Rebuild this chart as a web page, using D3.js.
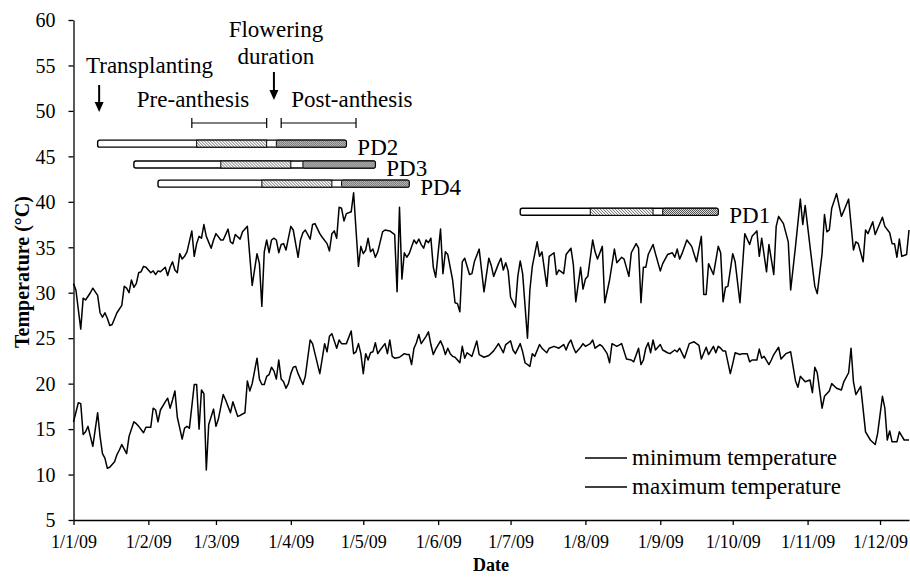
<!DOCTYPE html>
<html>
<head>
<meta charset="utf-8">
<script src="https://cdn.jsdelivr.net/npm/d3@7"></script>
<style>
  body { margin: 0; background: #fff; }
  svg text { font-family: "Liberation Serif", "Times New Roman", serif; fill: #000; }
  .axis path, .axis line { stroke: #000; stroke-width: 1.3; }
</style>
</head>
<body>
<svg id="MyGraph" width="910" height="579"></svg>
<script>
// day of 2009 (0 = 1 Jan) and daily maximum temperature
var maxDay = [0,1,3,4,5,7,8,10,11,12,13,14,15,16,18,20,21,22,23,24,25,26,27,28,29,30,32,33,34,35,36,38,39,40,41,42,43,44,45,46,47,49,50,51,52,53,54,55,57,58,59,61,62,64,65,66,67,69,70,72,74,76,77,78,79,80,81,82,83,84,85,86,87,88,89,90,91,93,94,95,96,98,99,100,102,103,105,106,107,108,109,110,111,112,113,115,116,117,118,119,120,121,122,123,124,125,126,128,129,131,133,134,135,136,137,138,139,141,142,143,144,145,146,147,148,149,150,152,153,154,155,157,158,159,160,161,162,164,165,166,168,170,172,173,174,176,177,178,179,180,181,183,184,185,186,188,189,190,192,193,194,196,197,199,200,201,203,204,206,207,208,210,211,212,213,215,216,217,219,220,222,224,225,227,228,230,231,233,234,235,236,237,238,240,241,243,244,246,248,249,250,251,252,254,256,258,260,261,262,263,265,267,268,269,270,271,273,274,276,278,280,281,283,284,285,287,288,290,291,292,294,296,297,299,301,302,303,305,307,308,310,311,312,313,314,316,318,319,321,323,324,325,327,328,329,331,332,335,336,338,339,340,341,342,343,345,346];
var maxTemp = [31,30.3,26,29.4,29.2,30,30.5,29.7,27.8,27.3,27.8,27.2,26.4,26.5,27.8,28.6,30.7,30.5,30,31.4,30.6,31,32.2,32.3,32.9,32.8,32.2,32.4,32,32.4,32.3,32.8,31.9,32.8,33.4,32.5,32.2,34.3,33.7,34,34.5,36.8,34,35.4,36.2,36,37.5,36.2,34.9,35.8,36.5,35.8,35.8,37,35.6,35.4,36.4,35.9,36.7,37.3,30.8,34.3,33.2,28.5,34.5,35.8,34.4,35.8,36,35.8,34.4,35.3,35.4,34.7,36,37.3,36.9,33.9,35.8,36.6,36.9,35.9,37.5,37.6,36.5,36.1,35.4,34.6,36.5,36.8,36,39.4,39.3,37.9,38.7,38.9,41,36.9,32.9,35.1,34.3,34.7,36,34.5,34.8,33.9,34.5,36.7,36.9,36.8,36.4,30.1,39.4,31.5,34.4,33.9,34.3,35.8,35.4,35.9,35.3,34.9,35.8,35.5,36,32.8,31.7,37,32.1,34.5,34.2,31.4,28.9,28.8,27.9,33.4,33.8,32,32.1,33.4,34.8,30.1,33.8,33,31.8,33.2,33.8,32.5,33.3,32.4,29.5,28.4,31.8,33.5,32.1,25,30.3,32.9,35.6,34,34.5,30.7,34,34.4,32,32.5,32.1,34.2,34.9,33.1,29,32.8,30.4,31.5,31.8,35.8,34.5,33.7,35.1,28.9,31.4,34.8,33.3,33.9,33.7,31.8,34.4,35.4,34.9,28.9,32.8,32.8,34.2,35.3,34.3,32.4,33.2,34.2,34.4,33.9,34.8,33.7,34.3,35.8,35.1,33.4,36.2,29.8,29.8,33.2,32,35.1,34.4,29,30.6,30.7,34.3,33.4,28.9,36.5,35.3,36.2,36.8,34,36,32.3,35.3,32,37.3,38.4,37.6,35.6,30.3,35.1,40.3,37.5,39.6,35.1,30.7,29.9,34.3,38.6,36.7,36.9,39.3,40.9,38.4,39,40.3,34.7,35.6,35.4,33.4,36.9,36.5,37.8,36.4,38.3,37.3,36.6,35.4,35.4,33.9,35.9,34,34.2,36.9];

// day of 2009 and daily minimum temperature
var minDay = [0,2,3,4,5,6,7,8,10,11,12,13,14,15,17,18,19,20,22,23,25,26,27,29,30,32,33,34,35,36,38,39,40,41,42,43,44,45,46,47,48,50,51,52,53,54,55,56,58,59,60,62,63,65,66,68,69,71,72,73,74,76,77,78,79,80,81,82,83,84,85,86,87,88,89,90,91,92,93,95,96,98,99,100,102,104,105,106,107,109,110,111,113,115,116,117,118,119,120,121,122,123,124,125,126,127,129,130,131,132,133,135,137,138,139,140,141,142,143,144,146,147,148,149,150,152,153,154,155,156,157,158,160,161,162,163,165,167,168,170,172,174,176,178,179,181,182,183,185,186,187,189,190,191,193,194,196,197,199,201,203,204,205,206,207,208,210,211,212,214,215,216,218,219,221,222,223,225,227,229,231,232,234,235,236,237,238,239,240,241,243,244,246,247,249,250,251,253,255,257,259,260,262,263,265,266,267,268,269,270,272,273,274,276,277,279,280,281,283,284,285,286,288,289,290,292,293,295,297,299,300,301,303,305,306,307,308,310,311,313,314,316,318,319,321,322,323,324,326,328,330,332,333,335,336,337,338,339,341,342,344,346];
var minTemp = [15.8,17.9,17.8,14.4,14.7,15.3,14.2,13.1,16.8,14.2,12.3,11.8,10.7,10.8,11.4,12.2,12.7,13.3,12.3,14.2,15.8,15.6,15.3,14.6,15.2,15.2,17.3,17.1,15.8,17.1,18,18.4,17.3,18.2,19.2,16.3,15.1,13.9,15.1,15.3,15.1,19.9,19.9,15,19.3,18.9,10.5,15.5,17.2,15.3,16.1,18.8,18.2,16.8,18,16.4,16.5,16.8,20.3,19.2,20,22.8,20.5,19.9,19.9,20.8,21,21.8,21.4,20.5,22.6,20.5,20.2,19.5,20,21.1,21.8,21.9,21.1,19.9,20.8,24.8,24.4,23.3,21.1,24.4,23.5,25.2,25.5,23.9,24.8,24.4,24.4,25.8,23.3,23.5,24.4,23.3,21.1,23.3,22.6,23.4,23.5,24.5,23.3,23.7,24.4,23.3,24.8,23,22.8,22.9,23.3,23.2,23.2,22.1,23.9,24.5,25.4,24.4,25.2,25.7,24.3,23.2,23.8,24.7,24.1,23.2,23.9,23.3,23,22.9,22.3,24.1,22.8,23.4,23,24.7,23.2,22.9,23.1,23.6,24.4,23.4,24.3,24.7,23.7,23.3,24.4,23.5,22.3,21.9,23.3,23,24.3,23.9,23.4,23.9,24.1,23.9,24.3,23.7,24.4,24.8,24,23.4,24,24.4,24.1,24.4,24.8,23.9,24.3,24.1,23.3,22.3,24.4,24.1,24.4,22.7,22.6,22.4,23.9,22.1,22.6,23.9,24.5,23.4,24.8,23.7,24.3,23.7,23.4,23.3,23.7,23.5,23.9,22.8,24.4,24.6,24.2,22.7,24,23.2,24.1,23.4,24.1,23.9,23.6,23.6,21.1,22.2,23.4,23.2,23.3,23.3,22.4,22.6,22.6,23.8,22.8,23,22.1,22.6,23.2,24,22.7,23.3,23.5,20.3,19.6,20.8,20.2,20.4,19,21.8,21.2,17.3,18.6,19.2,20,19.5,19.3,20.2,21.2,23.9,20.2,18.8,19.7,14.7,13.8,13.3,14.5,18.6,17.3,13.8,14.8,13.6,13.6,14.7,13.8,13.8];

var xTickLabels = ["1/1/09","1/2/09","1/3/09","1/4/09","1/5/09","1/6/09","1/7/09","1/8/09","1/9/09","1/10/09","1/11/09","1/12/09"];
var yTicks = [5,10,15,20,25,30,35,40,45,50,55,60];

// planting dates: transplanting, start pre-anthesis, start flowering, end flowering, maturity
var plantings = ["PD2","PD3","PD4","PD1"];
var transplantDates = ["11/1/09","26/1/09","5/2/09","5/7/09"];
var preAnthesisDates = ["21/2/09","3/3/09","20/3/09","3/8/09"];
var floweringDates = ["22/3/09","1/4/09","18/4/09","29/8/09"];
var postAnthesisDates = ["26/3/09","6/4/09","22/4/09","2/9/09"];
var maturityDates = ["24/4/09","6/5/09","20/5/09","25/9/09"];
var barLevel = [46.4, 44.1, 42.0, 38.9];

var parse = d3.timeParse("%d/%m/%y");
var start = new Date(2009, 0, 1);
function dayToDate(d) { return d3.timeDay.offset(start, d); }

var svg = d3.select("#MyGraph");

var x = d3.scaleTime()
    .domain([start, new Date(2009, 11, 13)])
    .range([73.5, 909]);

var y = d3.scaleLinear()
    .domain([5, 60])
    .range([520, 20]);

var defs = svg.append("defs");

var hatch = defs.append("pattern")
    .attr("id", "hatch")
    .attr("patternUnits", "userSpaceOnUse")
    .attr("width", 3).attr("height", 3);
hatch.append("rect").attr("width", 3).attr("height", 3).attr("fill", "#fff");
hatch.append("path")
    .attr("d", "M-1,-1L4,4M-1,2L1,4M2,-1L4,1")
    .attr("stroke", "#444").attr("stroke-width", 0.8);

var cross = defs.append("pattern")
    .attr("id", "cross")
    .attr("patternUnits", "userSpaceOnUse")
    .attr("width", 2).attr("height", 2);
cross.append("rect").attr("width", 2).attr("height", 2).attr("fill", "#fff");
cross.append("rect").attr("width", 1).attr("height", 1).attr("fill", "#333");
cross.append("rect").attr("x", 1).attr("y", 1).attr("width", 1).attr("height", 1).attr("fill", "#333");

// axes
svg.append("g")
    .attr("class", "axis")
    .attr("transform", "translate(73.5,0)")
    .call(d3.axisLeft(y).tickValues(yTicks).tickSize(5).tickPadding(13).tickSizeOuter(0))
    .call(function(g) {
      g.selectAll("text").style("font-size", "20px").attr("dy", "0.34em");
    });

svg.append("g")
    .attr("class", "axis")
    .attr("transform", "translate(0,520)")
    .call(d3.axisBottom(x).tickValues(xTickLabels.map(parse)).tickSize(5).tickPadding(10).tickSizeOuter(0)
        .tickFormat(function(d, i) { return xTickLabels[i]; }))
    .call(function(g) {
      g.selectAll("text").style("font-size", "18px");
    });

svg.append("text")
    .attr("transform", "translate(22,272) rotate(-90)")
    .attr("text-anchor", "middle")
    .attr("dy", "0.35em")
    .style("font-size", "20px")
    .style("font-weight", "bold")
    .text("Temperature (°C)");

svg.append("text")
    .attr("x", 491)
    .attr("y", 571)
    .attr("text-anchor", "middle")
    .style("font-size", "18px")
    .style("font-weight", "bold")
    .text("Date");

// temperature lines
var line = d3.line()
    .x(function(d) { return x(dayToDate(d[0])); })
    .y(function(d) { return y(d[1]); });

svg.append("path")
    .datum(d3.zip(minDay, minTemp))
    .attr("fill", "none")
    .attr("stroke", "#000")
    .attr("stroke-width", 1.5)
    .attr("stroke-linejoin", "round")
    .attr("d", line);

svg.append("path")
    .datum(d3.zip(maxDay, maxTemp))
    .attr("fill", "none")
    .attr("stroke", "#000")
    .attr("stroke-width", 1.5)
    .attr("stroke-linejoin", "round")
    .attr("d", line);

// crop phase bars
var barH = 7;
var bars = svg.append("g")
    .selectAll("g")
    .data(plantings)
    .enter().append("g")
    .attr("transform", function(d, i) { return "translate(0," + y(barLevel[i]) + ")"; });

bars.append("rect")
    .attr("x", function(d, i) { return x(parse(transplantDates[i])); })
    .attr("y", -barH / 2)
    .attr("width", function(d, i) { return x(parse(maturityDates[i])) - x(parse(transplantDates[i])); })
    .attr("height", barH)
    .attr("rx", 2)
    .attr("fill", "#fff")
    .attr("stroke", "#000")
    .attr("stroke-width", 1.4);

bars.append("rect")
    .attr("x", function(d, i) { return x(parse(preAnthesisDates[i])); })
    .attr("y", -barH / 2)
    .attr("width", function(d, i) { return x(parse(floweringDates[i])) - x(parse(preAnthesisDates[i])); })
    .attr("height", barH)
    .attr("fill", "url(#hatch)")
    .attr("stroke", "#000")
    .attr("stroke-width", 1);

bars.append("rect")
    .attr("x", function(d, i) { return x(parse(postAnthesisDates[i])); })
    .attr("y", -barH / 2)
    .attr("width", function(d, i) { return x(parse(maturityDates[i])) - x(parse(postAnthesisDates[i])); })
    .attr("height", barH)
    .attr("rx", 1.5)
    .attr("fill", "url(#cross)")
    .attr("stroke", "#000")
    .attr("stroke-width", 1);

bars.append("text")
    .attr("x", function(d, i) { return x(parse(maturityDates[i])) + 11; })
    .attr("y", 3)
    .attr("dy", "0.35em")
    .style("font-size", "23px")
    .text(function(d) { return d; });

// annotations
var ann = svg.append("g");

function arrow(xp, y0, y1) {
  ann.append("line")
      .attr("x1", xp).attr("x2", xp)
      .attr("y1", y0).attr("y2", y1 - 8)
      .attr("stroke", "#000").attr("stroke-width", 2);
  ann.append("path")
      .attr("d", "M" + (xp - 4.5) + "," + (y1 - 10) + "L" + (xp + 4.5) + "," + (y1 - 10) + "L" + xp + "," + y1 + "Z")
      .attr("fill", "#000");
}

var xTrans = x(parse(transplantDates[0])) + 1.5;
var xFlower = x(parse("25/3/09"));
arrow(xTrans, 85, 112);
arrow(xFlower, 72, 100);

ann.append("text").attr("x", 86).attr("y", 73).style("font-size", "23px").text("Transplanting");
ann.append("text").attr("x", xFlower + 2).attr("y", 37).attr("text-anchor", "middle").style("font-size", "23px").text("Flowering");
ann.append("text").attr("x", xFlower + 2).attr("y", 64).attr("text-anchor", "middle").style("font-size", "23px").text("duration");

function bracket(a, b, yp) {
  var x0 = x(parse(a)), x1 = x(parse(b));
  ann.append("path")
      .attr("d", "M" + x0 + "," + (yp - 5) + "V" + (yp + 5) + "M" + x0 + "," + yp + "H" + x1 + "M" + x1 + "," + (yp - 5) + "V" + (yp + 5))
      .attr("fill", "none").attr("stroke", "#000").attr("stroke-width", 1.2);
  return x0;
}
var preLeft = bracket("19/2/09", "22/3/09", 123);
var postLeft = bracket("28/3/09", "28/4/09", 123);
ann.append("text").attr("x", preLeft - 55).attr("y", 107).style("font-size", "23px").text("Pre-anthesis");
ann.append("text").attr("x", postLeft + 10).attr("y", 107).style("font-size", "23px").text("Post-anthesis");

// legend
var legendNames = ["minimum temperature", "maximum temperature"];
var legend = svg.append("g")
    .selectAll("g")
    .data(legendNames)
    .enter().append("g")
    .attr("transform", function(d, i) { return "translate(585," + (458 + i * 29) + ")"; });

legend.append("line")
    .attr("x1", 0).attr("x2", 42)
    .attr("stroke", "#000").attr("stroke-width", 1.5);

legend.append("text")
    .attr("x", 47)
    .attr("dy", "0.3em")
    .style("font-size", "23px")
    .text(function(d) { return d; });
</script>
</body>
</html>
